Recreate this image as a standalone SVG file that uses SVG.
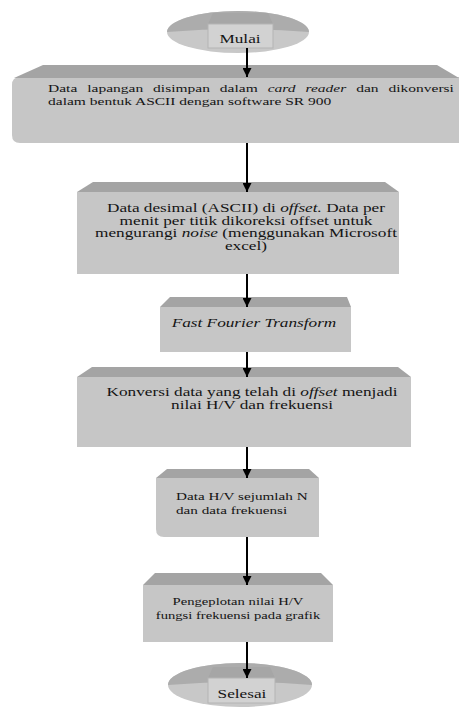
<svg xmlns="http://www.w3.org/2000/svg" width="460" height="708" viewBox="0 0 460 708">
<defs>
<style>
.body{fill:#c6c6c6}
.bev{fill:#a4a4a4}
.t{font-family:"Liberation Serif","Times New Roman",serif;font-size:11.5px;fill:#141414}
.s{font-size:11px}
.m{text-anchor:middle}
.i{font-style:italic}
.c{stroke:#000;stroke-width:2;fill:none}
.disk{fill:#c8c8c8}
.top{fill:#acacac}
.lab{fill:#d2d2d2;stroke:#b4b4b4;stroke-width:1}
.trap{fill:#a6a6a6}
</style>
<marker id="ah" markerUnits="userSpaceOnUse" markerWidth="9" markerHeight="9" viewBox="0 0 8 8" refX="8" refY="4" orient="auto">
<path d="M0,0 L8,4 L0,8 Z" fill="#000"/>
</marker>
</defs>
<rect width="460" height="708" fill="#fff"/>

<g id="mulai">
<ellipse class="disk" cx="238" cy="32" rx="71" ry="21"/>
<path class="top" d="M167,32 A71,21 0 0 1 309,32 Q238,26 167,32 Z"/>
<polygon class="trap" points="213,13 268,13 273,24 208,24"/>
<rect class="lab" x="208" y="24" width="65" height="24"/>
<text class="t m" transform="matrix(1.5 0 0 1 240 43)">Mulai</text>
</g>

<g id="box1">
<path class="body" d="M12,85 Q12,77 20,77 L459,77 L459,143 L20,143 Q12,143 12,135 Z"/>
<path class="bev" d="M43,65 L437,65 L459,78 L14,78 Z"/>
<text class="t s" word-spacing="4.3" transform="matrix(1.41 0 0 1 48 92)">Data lapangan disimpan dalam <tspan class="i">card reader</tspan> dan dikonversi</text>
<text class="t s" transform="matrix(1.41 0 0 1 48 105)">dalam bentuk ASCII dengan software SR 900</text>
</g>

<g id="box2">
<rect class="body" x="77" y="192" width="322" height="82"/>
<polygon class="bev" points="93,182 385,182 399,192 77,192"/>
<text class="t m" transform="matrix(1.5 0 0 1 246 212)">Data desimal (ASCII) di <tspan class="i">offset.</tspan> Data per</text>
<text class="t m" transform="matrix(1.5 0 0 1 246 225)">menit per titik dikoreksi offset untuk</text>
<text class="t m" transform="matrix(1.5 0 0 1 246 237)">mengurangi <tspan class="i">noise</tspan> (menggunakan Microsoft</text>
<text class="t m" transform="matrix(1.5 0 0 1 246 250)">excel)</text>
</g>

<g id="box3">
<rect class="body" x="160" y="307" width="191" height="45"/>
<polygon class="bev" points="170,297 347,297 351,307 160,307"/>
<text class="t m i" transform="matrix(1.5 0 0 1 254 327)">Fast Fourier Transform</text>
</g>

<g id="box4">
<rect class="body" x="77" y="377" width="334" height="70"/>
<polygon class="bev" points="92,367 398,367 411,377 77,377"/>
<text class="t m" transform="matrix(1.5 0 0 1 252 396)">Konversi data yang telah di  <tspan class="i">offset</tspan> menjadi</text>
<text class="t m" transform="matrix(1.5 0 0 1 252 409)">nilai H/V dan frekuensi</text>
</g>

<g id="box5">
<path class="body" d="M156,478 L319,478 L319,537 L164,537 Q156,537 156,529 Z"/>
<polygon class="bev" points="167,469 309,469 319,478 156,478"/>
<text class="t s" transform="matrix(1.38 0 0 1 176 500)">Data H/V sejumlah N</text>
<text class="t s" transform="matrix(1.38 0 0 1 176 514)">dan data frekuensi</text>
</g>

<g id="box6">
<rect class="body" x="143" y="585" width="190" height="57"/>
<polygon class="bev" points="155,573 321,573 333,585 143,585"/>
<text class="t s m" transform="matrix(1.33 0 0 1 238 605)">Pengeplotan nilai H/V</text>
<text class="t s m" transform="matrix(1.33 0 0 1 238 619)">fungsi frekuensi pada grafik</text>
</g>

<g id="selesai">
<ellipse class="disk" cx="240" cy="685" rx="72" ry="22"/>
<path class="top" d="M168,685 A72,22 0 0 1 312,685 Q240,679 168,685 Z"/>
<polygon class="trap" points="213,667 270,667 275,678 208,678"/>
<rect class="lab" x="208" y="678" width="67" height="25"/>
<text class="t m" transform="matrix(1.5 0 0 1 242 698)">Selesai</text>
</g>

<g id="connectors">
<line class="c" x1="247" y1="48" x2="247" y2="77" marker-end="url(#ah)"/>
<line class="c" x1="247" y1="143" x2="247" y2="192" marker-end="url(#ah)"/>
<line class="c" x1="247" y1="274" x2="247" y2="307" marker-end="url(#ah)"/>
<line class="c" x1="247" y1="352" x2="247" y2="377" marker-end="url(#ah)"/>
<line class="c" x1="247" y1="447" x2="247" y2="478" marker-end="url(#ah)"/>
<line class="c" x1="247" y1="537" x2="247" y2="585" marker-end="url(#ah)"/>
<line class="c" x1="247" y1="642" x2="247" y2="678" marker-end="url(#ah)"/>
</g>
</svg>
